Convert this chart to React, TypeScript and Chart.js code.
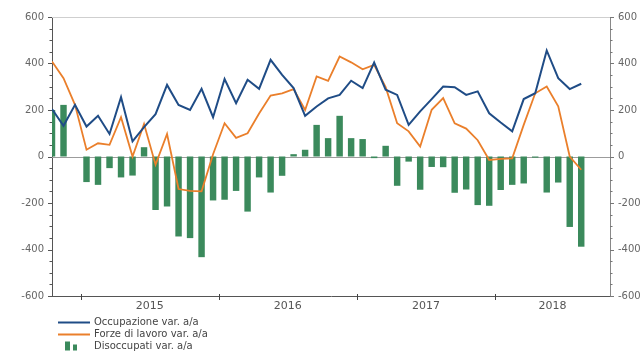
import React, { useEffect, useRef } from 'react';
import { Chart, registerables } from 'chart.js';

Chart.register(...registerables);

const months = [
  '2014-10', '2014-11', '2014-12',
  '2015-01', '2015-02', '2015-03', '2015-04', '2015-05', '2015-06', '2015-07', '2015-08', '2015-09', '2015-10', '2015-11', '2015-12',
  '2016-01', '2016-02', '2016-03', '2016-04', '2016-05', '2016-06', '2016-07', '2016-08', '2016-09', '2016-10', '2016-11', '2016-12',
  '2017-01', '2017-02', '2017-03', '2017-04', '2017-05', '2017-06', '2017-07', '2017-08', '2017-09', '2017-10', '2017-11', '2017-12',
  '2018-01', '2018-02', '2018-03', '2018-04', '2018-05', '2018-06', '2018-07', '2018-08',
];

const occupazione = [
  204, 132, 222,
  129, 175, 97, 255, 65, 126, 182, 308, 222, 200, 291, 169,
  333, 229, 330, 291, 416, 351, 294, 175, 215, 250, 265, 326,
  294, 404, 287, 265, 136, 194, 247, 301, 298, 265, 280, 186,
  146, 108, 247, 272, 456, 337, 290, 313,
];

const forzeLavoro = [
  409, 337, 222,
  29, 57, 50, 169, 0, 140, -35, 97, -140, -148, -150, 10,
  143, 80, 100, 185, 262, 272, 290, 200, 344, 325, 430, 405,
  375, 394, 298, 143, 108, 43, 201, 251, 143, 120, 70, -15,
  -10, -8, 136, 272, 301, 216, 0, -57,
];

const disoccupati = [
  200, 222, 0,
  -110, -122, -50, -90, -82, 40, -230, -215, -344, -351, -433, -189,
  -186, -148, -237, -90, -155, -83, 10, 29, 136, 79, 175, 79,
  75, -7, 46, -126, -22, -143, -45, -46, -156, -142, -209, -212,
  -144, -122, -116, -5, -155, -112, -303, -388,
];

const yTickStep = 200;
const yMinorStep = 50;
const yMin = -600;
const yMax = 600;
const xMax = 48.5;

const legendLabels = ['Occupazione var. a/a', 'Forze di lavoro var. a/a', 'Disoccupati var. a/a'];

const BLUE = '#1f4c86';
const ORANGE = '#ea7f2b';
const GREEN = '#3b8a5c';
const FONT = '"DejaVu Sans", Verdana, sans-serif';

export default function App() {
  const ref = useRef<HTMLCanvasElement>(null);

  useEffect(() => {
    const canvas = ref.current;
    if (!canvas) return;

    const boundaries: number[] = [];
    const yearLabels: string[] = [];
    months.forEach((m, i) => {
      if (m.endsWith('-01')) {
        boundaries.push(i - 0.5);
        yearLabels.push(m.slice(0, 4));
      }
    });
    const labelPos = boundaries.map((b, i) => (b + (i + 1 < boundaries.length ? boundaries[i + 1] : xMax)) / 2);

    const toXY = (arr: number[]) => arr.map((v, i) => ({ x: i, y: v }));

    const decor = {
      id: 'decor',
      beforeDatasetsDraw(chart: any) {
        const { ctx, chartArea: a, scales } = chart;
        const y = scales.y;
        ctx.save();
        ctx.lineWidth = 1;
        ctx.strokeStyle = '#cfcfcf';
        ctx.beginPath();
        ctx.moveTo(a.left, Math.round(a.top) + 0.5);
        ctx.lineTo(a.right, Math.round(a.top) + 0.5);
        ctx.stroke();
        const y0 = Math.round(y.getPixelForValue(0)) + 0.5;
        ctx.strokeStyle = '#9c9c9c';
        ctx.beginPath();
        ctx.moveTo(a.left, y0);
        ctx.lineTo(a.right, y0);
        ctx.stroke();
        ctx.restore();
      },
      afterDraw(chart: any) {
        const { ctx, chartArea: a, scales } = chart;
        const y = scales.y;
        const x = scales.x;
        ctx.save();
        ctx.lineWidth = 1;
        for (let v = yMin; v <= yMax; v += yMinorStep) {
          const py = Math.round(y.getPixelForValue(v)) + 0.5;
          const len = v % yTickStep === 0 ? 4 : 2.5;
          ctx.strokeStyle = '#555';
          ctx.beginPath();
          ctx.moveTo(a.left - len, py);
          ctx.lineTo(a.left, py);
          ctx.stroke();
          ctx.strokeStyle = '#777';
          ctx.beginPath();
          ctx.moveTo(a.right, py);
          ctx.lineTo(a.right + len, py);
          ctx.stroke();
        }
        ctx.strokeStyle = '#444';
        boundaries.forEach((b) => {
          const px = Math.round(x.getPixelForValue(b)) + 0.5;
          ctx.beginPath();
          ctx.moveTo(px, a.bottom - 2);
          ctx.lineTo(px, a.bottom + 4);
          ctx.stroke();
        });
        const rows = [322.5, 334.5, 346.5];
        ctx.font = `10px ${FONT}`;
        ctx.textBaseline = 'middle';
        ctx.textAlign = 'left';
        const colors = [BLUE, ORANGE];
        rows.forEach((ry, i) => {
          if (i < 2) {
            ctx.strokeStyle = colors[i];
            ctx.lineWidth = 2;
            ctx.beginPath();
            ctx.moveTo(58, ry);
            ctx.lineTo(90, ry);
            ctx.stroke();
          } else {
            ctx.fillStyle = GREEN;
            ctx.fillRect(65, ry - 5, 5, 9);
            ctx.fillRect(73, ry - 2, 4, 6);
          }
          ctx.fillStyle = '#444';
          ctx.fillText(legendLabels[i], 94, ry);
        });
        ctx.restore();
      },
    };

    const yAxisBase = (position: 'left' | 'right', width: number, borderColor: string) => ({
      position,
      min: yMin,
      max: yMax,
      grid: { display: false, drawTicks: false },
      border: { display: true, color: borderColor, width: 1 },
      ticks: {
        stepSize: yTickStep,
        padding: 8,
        color: '#666',
        font: { size: 10, family: FONT },
      },
      afterFit: (s: any) => {
        s.width = width;
      },
    });

    const chart = new Chart(canvas, {
      type: 'bar',
      data: {
        datasets: [
          {
            type: 'line',
            label: legendLabels[0],
            data: toXY(occupazione),
            borderColor: BLUE,
            backgroundColor: BLUE,
            borderWidth: 2,
            pointRadius: 0,
            tension: 0,
            order: 1,
          } as any,
          {
            type: 'line',
            label: legendLabels[1],
            data: toXY(forzeLavoro),
            borderColor: ORANGE,
            backgroundColor: ORANGE,
            borderWidth: 1.8,
            pointRadius: 0,
            tension: 0,
            order: 2,
          } as any,
          {
            type: 'bar',
            label: legendLabels[2],
            data: toXY(disoccupati),
            backgroundColor: GREEN,
            borderWidth: 0,
            barPercentage: 0.56,
            categoryPercentage: 1,
            order: 3,
            clip: 0,
          } as any,
        ],
      },
      options: {
        responsive: false,
        animation: false,
        devicePixelRatio: 1,
        layout: { padding: { top: 17, left: 0, right: 0, bottom: 0 } },
        plugins: {
          legend: { display: false },
          tooltip: { enabled: false },
        },
        scales: {
          x: {
            type: 'linear',
            min: 0,
            max: xMax,
            offset: false,
            grid: { display: false, drawTicks: false },
            border: { display: true, color: '#555', width: 1 },
            afterBuildTicks: (s: any) => {
              s.ticks = labelPos.map((v) => ({ value: v }));
            },
            afterFit: (s: any) => {
              s.height = 55;
            },
            ticks: {
              autoSkip: false,
              maxRotation: 0,
              padding: 4,
              color: '#555',
              font: { size: 11, family: FONT },
              callback: (_v: any, i: number) => yearLabels[i],
            },
          },
          y: yAxisBase('left', 52, '#555') as any,
          y2: yAxisBase('right', 34, '#888') as any,
        },
      } as any,
      plugins: [decor],
    });

    return () => chart.destroy();
  }, []);

  return (
    <div style={{ position: 'absolute', left: 0, top: 0, width: 644, height: 351, background: '#fff' }}>
      <canvas ref={ref} width={644} height={351} style={{ display: 'block' }} />
    </div>
  );
}
